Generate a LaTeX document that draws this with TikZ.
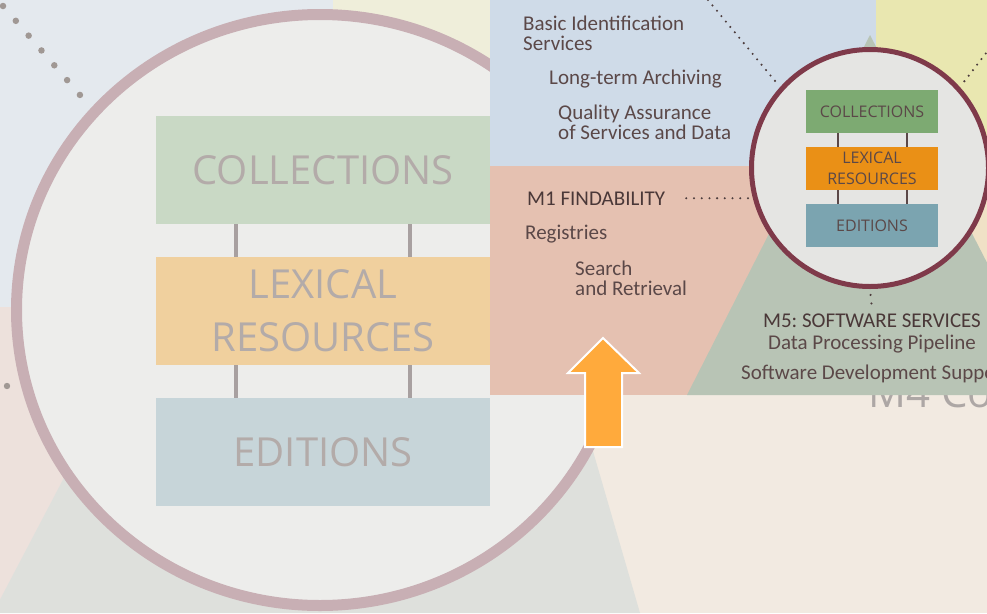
\documentclass[tikz,border=0pt]{standalone}
\usepackage{fontspec}
\setmainfont{Carlito}
\newfontfamily\boxfont{Open Sans}
\usetikzlibrary{positioning}
\tikzset{>=latex}
\frenchspacing

\definecolor{cream}{HTML}{F2EAE1}
\definecolor{bgblue}{HTML}{E4E9EE}
\definecolor{bgpink}{HTML}{EDE1DC}
\definecolor{bgyellow}{HTML}{EFEEDA}
\definecolor{fadetri}{HTML}{DEE0DC}
\definecolor{ringfade}{HTML}{C8AFB4}
\definecolor{circfade}{HTML}{EDEDEB}
\definecolor{fadegreen}{HTML}{C9D9C5}
\definecolor{fadeorange}{HTML}{F0D09E}
\definecolor{fadeblue}{HTML}{C7D5D9}
\definecolor{fadetext}{HTML}{B3ABA9}
\definecolor{fadeline}{HTML}{A8A0A0}
\definecolor{fadedot}{HTML}{A09894}
\definecolor{m4grey}{HTML}{ADA7A5}
\definecolor{panelblue}{HTML}{CFDBE8}
\definecolor{panelyellow}{HTML}{E9E7B0}
\definecolor{panelbeige}{HTML}{F0E1C6}
\definecolor{panelpink}{HTML}{E5C1B1}
\definecolor{panelgreen}{HTML}{B8C4B5}
\definecolor{ringdark}{HTML}{7F3A4A}
\definecolor{circlight}{HTML}{E5E5E3}
\definecolor{boxgreen}{HTML}{7DAA72}
\definecolor{boxorange}{HTML}{EA9016}
\definecolor{boxblue}{HTML}{7BA4B0}
\definecolor{textdark}{HTML}{5B4848}
\definecolor{titledark}{HTML}{4A3838}
\definecolor{dotdark}{HTML}{4D3D3D}
\definecolor{arrowfill}{HTML}{FFAA3C}

\tikzset{
  fadebox/.style={anchor=north west, minimum width=334pt, minimum height=108pt, inner sep=0pt, outer sep=0pt, text=fadetext, font=\boxfont\fontsize{40}{53}\selectfont, align=center},
  smallbox/.style={minimum width=132pt, minimum height=43pt, inner sep=0pt, outer sep=0pt, text=textdark, font=\boxfont\fontsize{16}{21}\selectfont, align=center},
  txt/.style={anchor=base west, inner sep=0pt, text=textdark, font=\fontsize{21}{20}\selectfont, align=left},
  title/.style={txt, text=titledark},
  dotline/.style={draw=dotdark, line width=2.3pt, line cap=round, dash pattern=on 0pt off 7pt},
}

\begin{document}
\begin{tikzpicture}[x=1pt,y=-1pt]
\useasboundingbox (0,0) rectangle (987,613);
\clip (0,0) rectangle (987,613);

% faded backdrop (zoomed view)
\fill[cream] (0,0) rectangle (987,613);
\fill[bgblue] (0,0) rectangle (490,307);
\fill[bgpink] (0,307) rectangle (300,613);
\fill[bgyellow] (333,0) rectangle (490,120);
\fill[fadetri] (152,310) -- (552,310) -- (640,613) -- (-7,613) -- cycle;
\draw[ringfade, line width=11pt, fill=circfade] (320,310) ellipse [x radius=303.5, y radius=295.5];
\draw[fadedot, line width=6.5pt, line cap=round, dash pattern=on 0pt off 19.6pt] (3,6) -- (80,95);
\fill[fadedot] (7,386) circle (3.2pt);

\node[fadebox, fill=fadegreen] (bigcoll) at (156,116) {COLLECTIONS};
\node[fadebox, fill=fadeorange, below=33pt of bigcoll] (biglex) {LEXICAL\\RESOURCES};
\node[fadebox, fill=fadeblue, below=33pt of biglex] (bigedit) {EDITIONS};
\foreach \dx in {-87,87} {
  \draw[fadeline, line width=4pt] ([xshift=\dx pt]bigcoll.south) -- ([xshift=\dx pt]biglex.north);
  \draw[fadeline, line width=4pt] ([xshift=\dx pt]biglex.south) -- ([xshift=\dx pt]bigedit.north);
}
\node[anchor=base west, inner sep=0pt, text=m4grey, font=\boxfont\fontsize{42}{42}\selectfont] (m4) at (868,407) {M4 Co};

% overview panel
\begin{scope}
  \clip (490,0) rectangle (987,395);
  \fill[panelbeige] (490,0) rectangle (987,395);
  \fill[panelblue] (490,0) rectangle (876,166);
  \fill[panelyellow] (876,0) rectangle (987,200);
  \fill[panelpink] (490,166) rectangle (876,395);
  \fill[panelgreen] (870,35) -- (1055,395) -- (687,395) -- cycle;
\end{scope}

\node[circle, draw=ringdark, line width=5pt, fill=circlight, minimum size=237pt, inner sep=0pt] (hub) at (870,168) {};
\node[smallbox, fill=boxgreen] (coll) at (872,111.5) {COLLECTIONS};
\node[smallbox, fill=boxorange, below=14pt of coll] (lex) {LEXICAL\\RESOURCES};
\node[smallbox, fill=boxblue, below=14pt of lex] (edit) {EDITIONS};
\foreach \dx in {-34,35} {
  \draw[textdark, line width=2pt] ([xshift=\dx pt]coll.south) -- ([xshift=\dx pt]lex.north);
  \draw[textdark, line width=2pt] ([xshift=\dx pt]lex.south) -- ([xshift=\dx pt]edit.north);
}

% labels (base = last line)
\node[txt] (basic) at (523,50) {Basic Identification\\Services};
\node[txt] (archiv) at (549,84) {Long-term Archiving};
\node[txt] (quality) at (558,139) {Quality Assurance\\of Services and Data};
\node[title] (m1) at (527,205) {M1 FINDABILITY};
\node[txt] (regis) at (525,239) {Registries};
\node[txt] (search) at (575,295) {Search\\and Retrieval};
\node[title, anchor=base] (m5) at (872,327) {M5: SOFTWARE SERVICES};
\node[txt, anchor=base] (pipe) at (872,349) {Data Processing Pipeline};
\node[txt] (devsup) at (741,379) {Software Development Suppo};

\coordinate (topin) at (708,0);
\coordinate (rightin) at (990,48);
\draw[dotline, shorten >=5pt] (topin) -- (hub.138);
\draw[dotline, shorten >=5pt] (rightin) -- (hub.42);
\draw[dotline, dash pattern=on 0pt off 7.7pt] ([xshift=21pt]m1.east) -- (m1.east -| hub.west);
\draw[dotline, dash pattern=on 0pt off 8.5pt, shorten <=6pt] (hub.south) -- ([yshift=4pt]m5.north);

% orange arrow
\fill[arrowfill, draw=white, line width=2pt] (603,338) -- (639,373) -- (622,373) -- (622,447) -- (585,447) -- (585,373) -- (568,373) -- cycle;
\end{tikzpicture}
\end{document}
